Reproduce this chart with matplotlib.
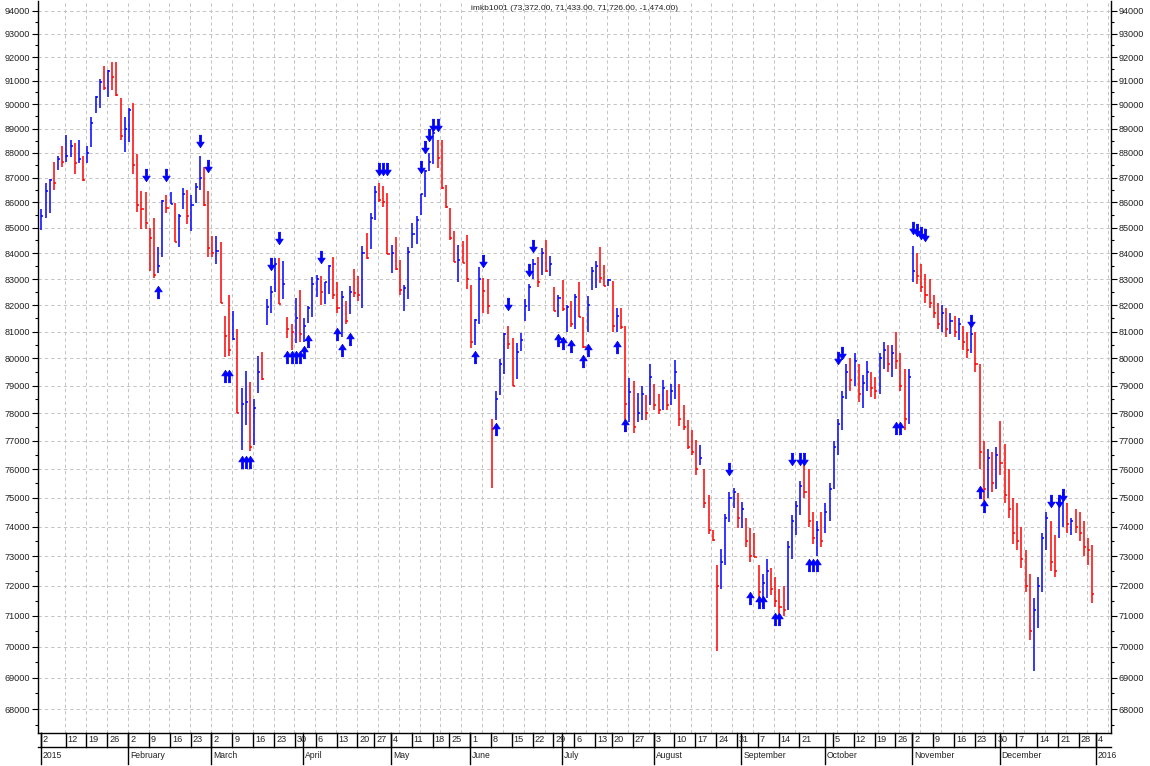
import numpy as np
import pandas as pd
import matplotlib
matplotlib.use("Agg")
import matplotlib.pyplot as plt
from matplotlib.path import Path
from matplotlib.lines import Line2D
from matplotlib.ticker import FixedLocator, NullFormatter

plt.rcParams['font.family'] = ['Liberation Sans Narrow', 'Liberation Sans', 'DejaVu Sans']

# islem gunleri (2015, resmi tatiller haric)
holidays = ["2015-01-01", "2015-04-23", "2015-05-01", "2015-05-19",
            "2015-07-17", "2015-09-24", "2015-09-25", "2015-10-29"]
days = pd.bdate_range("2015-01-01", "2015-12-31")
days = days[~days.isin(pd.to_datetime(holidays))]

high = [85750, 86800, 86950, 87620, 87890, 88300, 88740, 88510, 88400, 88510,
        87880, 88290, 89490, 90370, 91080, 91610, 91430, 91800, 91800, 90270,
        89490, 89870, 90080, 87940, 86470, 86400, 85000, 85380, 84230, 86080,
        86310, 86420, 85960, 85540, 86570, 86500, 86310, 86800, 87880, 87440,
        86460, 84690, 84690, 84450, 81600, 82380, 81790, 81110, 78930, 79550,
        79150, 78500, 80090, 80250, 82230, 82750, 83800, 83800, 83690, 81560,
        81300, 82260, 82570, 81520, 81970, 83080, 83170, 83120, 82900, 83540,
        83860, 82900, 82530, 82170, 82720, 83370, 83130, 84300, 84800, 85580,
        86640, 86780, 86650, 86370, 84340, 84640, 83740, 82770, 84260, 85200,
        85450, 86340, 87300, 88000, 89100, 88530, 88530, 86700, 85780, 84880,
        84340, 84470, 84730, 82770, 81480, 83450, 83040, 83000, 77800, 78800,
        79990, 80960, 81210, 80770, 80560, 80960, 82250, 82820, 83760, 83870,
        84200, 84510, 83890, 82700, 82400, 82960, 82010, 82160, 82430, 82890,
        81550, 82340, 83450, 83710, 84250, 83540, 83000, 82940, 81900, 81900,
        81230, 79290, 79160, 78730, 79000, 78650, 79800, 79050, 78700, 79200,
        78850, 79050, 79950, 79050, 78300, 77750, 77400, 77050, 76850, 76000,
        75100, 73900, 72700, 73250, 74450, 75200, 75350, 75150, 74850, 74300,
        73950, 73800, 72700, 72400, 72900, 72600, 72300, 71900, 72000, 73500,
        74400, 74900, 75600, 76300, 76000, 74500, 74200, 74500, 74800, 75500,
        77000, 77800, 78800, 79800, 80000, 80200, 79800, 79400, 79900, 79500,
        79300, 80200, 80600, 80500, 80500, 81000, 80200, 79600, 79600, 84300,
        84000, 83600, 83200, 83000, 82400, 82100, 82000, 81900, 81700, 81600,
        81500, 81200, 81000, 81200, 81000, 79800, 77000, 76700, 76600, 76800,
        77700, 76900, 76000, 75000, 74800, 74000, 73200, 72400, 71600, 72300,
        73800, 74500, 74200, 73700, 75000, 75200, 74800, 74300, 74600, 74500,
        74200, 73600, 73372]

low = [84920, 85370, 85590, 86500, 87290, 87420, 87620, 87850, 87130, 87580,
       86880, 87580, 88260, 89660, 89870, 90620, 90330, 90620, 90370, 88540,
       88050, 88450, 87150, 85610, 84930, 84950, 83300, 83040, 83230, 83850,
       85570, 85920, 84420, 84230, 85730, 85150, 84880, 85960, 86500, 85880,
       83850, 83850, 83580, 82100, 80050, 80090, 80680, 77990, 76680, 77570,
       76650, 76860, 78730, 79200, 81260, 81700, 82500, 82060, 82230, 80780,
       80300, 80580, 80610, 80610, 81330, 81560, 82330, 82000, 82040, 82420,
       82230, 81700, 80800, 81300, 81650, 82300, 82170, 81900, 83770, 84170,
       85300, 86000, 85820, 83960, 83250, 83360, 82380, 81790, 82230, 84200,
       84380, 85500, 86200, 87250, 87530, 87380, 86540, 85800, 84510, 83660,
       82900, 83620, 82620, 80400, 80520, 81300, 81720, 81670, 75350, 77750,
       78670, 79430, 80360, 78980, 79240, 80280, 81400, 81790, 83000, 82700,
       83170, 83290, 83130, 81770, 81550, 81790, 81000, 81160, 81110, 81550,
       80400, 80990, 82600, 82660, 82860, 82730, 82750, 81000, 81000, 81120,
       77320, 77690, 77280, 77690, 77750, 77750, 78300, 78100, 77950, 78100,
       78100, 78300, 78500, 77550, 77400, 76700, 76500, 75800, 76150, 74650,
       73750, 73500, 69850, 71900, 72700, 74150, 74650, 73950, 73950, 73300,
       72800, 72950, 71500, 71300, 71600, 71700, 71300, 71000, 71000, 71200,
       72900, 73700, 74400, 75000, 74000, 73400, 73000, 73300, 73800, 74200,
       75300, 76500, 77400, 78500, 78800, 79000, 78400, 78200, 78800, 78600,
       78500, 78700, 79600, 79500, 79300, 79600, 78800, 77400, 77600, 82900,
       82800, 82500, 82100, 81900, 81500, 81100, 81000, 80800, 80900, 80800,
       80700, 80300, 80000, 80200, 79500, 76000, 74900, 75000, 75200, 75300,
       75800, 74800, 74300, 73400, 73200, 72600, 71800, 70200, 69200, 70600,
       71800, 73200, 72500, 72300, 73600, 74000, 73800, 73700, 73800, 73500,
       73000, 72700, 71433]

close = [85460, 86470, 86900, 86800, 87750, 87610, 87880, 88290, 87600, 87740,
         86900, 88010, 89210, 90300, 90950, 90700, 91400, 91170, 90380, 88700,
         89000, 89760, 87500, 85890, 85750, 85200, 84580, 83150, 83500, 86040,
         85800, 85950, 84450, 85460, 86350, 85460, 85900, 86600, 87000, 85900,
         84190, 84000, 84100, 82100, 80830, 80330, 80720, 78000, 78330, 78400,
         76800, 78170, 79500, 79250, 81950, 82500, 83600, 82060, 82800, 81100,
         80970, 81500, 80920, 81200, 81900, 82800, 83000, 82500, 82880, 83500,
         82400, 81900, 82330, 81400, 82520, 82480, 82400, 84000, 83800, 85400,
         86400, 86080, 86000, 83990, 84020, 83380, 82600, 82650, 84060, 84770,
         85300, 86340, 87270, 87620, 88800, 87780, 86570, 85830, 84600, 83670,
         83720, 83630, 83000, 80600, 81450, 83000, 82530, 81980, 77430, 78500,
         79800, 80920, 80540, 79000, 80240, 80700, 81980, 82700, 83600, 82900,
         84000, 83300, 83600, 81790, 82290, 81850, 81950, 81300, 82300, 81570,
         80420, 82000, 83300, 83500, 83060, 82750, 82950, 81200, 81600, 81180,
         78320, 78750, 77500, 78010, 78700, 78000, 79300, 78300, 78100, 78900,
         78300, 78800, 79500, 77800, 77500, 76800, 76600, 76000, 76400, 74800,
         73900, 73550, 72000, 72800, 74300, 75000, 75200, 74300, 74600, 73500,
         73000, 72950, 71800, 72100, 72500, 71900, 71500, 71300, 71200, 73300,
         74200, 74700, 75400, 75200, 74200, 73600, 73900, 73500, 74500, 75300,
         76800, 77600, 78600, 79500, 79200, 79900, 78700, 79100, 79500, 78900,
         78800, 80000, 80300, 79800, 80200, 79900, 79000, 77800, 79300, 83300,
         83100, 82700, 82400, 82100, 81700, 81300, 81700, 81100, 81400, 81000,
         81300, 80600, 80300, 80900, 79800, 76600, 75300, 76400, 75500, 76500,
         76200, 75100, 74600, 73800, 73500, 72900, 72000, 70500, 71200, 72000,
         73600, 74300, 72800, 72500, 74800, 75000, 74100, 74200, 74000, 73800,
         73300, 73200, 71726]

# sinyal oklari: bar sirasi ve okun fiyat seviyesi
down_idx = [25, 30, 38, 40, 55, 57, 67, 81, 82, 83, 91, 92, 93, 94, 95, 106,
            112, 117, 118, 165, 180, 182, 183, 191, 192, 209, 210, 211, 212,
            223, 242, 244, 245]
down_at = [87100, 87100, 88500, 87450, 83580, 84580, 83850, 87350, 87350,
           87350, 87430, 88230, 88750, 89130, 89130, 83690, 82040, 83350,
           84270, 76000, 76350, 76350, 76350, 80000, 80200, 85000, 84900,
           84800, 84700, 81400, 74900, 74900, 75100]
up_idx = [28, 44, 45, 48, 49, 50, 59, 60, 61, 62, 63, 64, 71, 72, 74, 104, 109,
          124, 125, 127, 130, 131, 138, 140, 170, 172, 173, 176, 177, 184, 185,
          186, 205, 206, 225, 226]
up_at = [82500, 79370, 79370, 76250, 76250, 76250, 80040, 80040, 80040, 80040,
         80250, 80640, 80930, 80330, 80740, 80040, 77420, 80700, 80560, 80480,
         79890, 80330, 80410, 77560, 71600, 71450, 71450, 70900, 70900, 72700,
         72700, 72700, 77450, 77450, 75200, 74700]

months = ["2015", "February", "March", "April", "May", "June", "July",
          "August", "September", "October", "November", "December"]

W, H = 1150, 766
fig = plt.figure(figsize=(W / 100, H / 100), dpi=100)
ax = fig.add_axes([38 / W, (H - 733) / H, (1111 - 38) / W, 732 / H])

n = len(close)
x = np.arange(n)
c = np.array(close, dtype=float)
rise = np.r_[True, c[1:] > c[:-1]]
cols = np.where(rise, "#0000ff", "#ff0000")

ax.set_yscale("log")
ax.set_ylim(67250, 94420)
ax.set_xlim(-0.8, 256.5)

# izgara
grid = dict(color="#c4c4c4", lw=0.7, ls=(0, (3.5, 3)), zorder=0)
for v in range(68000, 94001, 1000):
    ax.axhline(v, **grid)
for p in np.arange(5.7, 256, 5):
    ax.axvline(p, **grid)

# barlar + kapanis
ax.vlines(x, low, high, colors=cols, lw=1.1, zorder=2)
ax.hlines(c, x, x + 0.5, colors=cols, lw=1.1, zorder=2)

# oklar
arrow = [(-0.09, -0.5), (0.09, -0.5), (0.09, 0.05), (0.3, 0.05), (0.0, 0.5),
         (-0.3, 0.05), (-0.09, 0.05), (-0.09, -0.5)]
up_mark = Path(arrow, closed=True)
down_mark = Path([(a, -b) for a, b in arrow], closed=True)
ax.plot(up_idx, up_at, ls="none", marker=up_mark, ms=9, color="#0000ff",
        mew=0.5, zorder=3)
ax.plot(down_idx, down_at, ls="none", marker=down_mark, ms=9, color="#0000ff",
        mew=0.5, zorder=3)

# y ekseni iki tarafta
ax.yaxis.set_major_locator(FixedLocator(range(68000, 94001, 1000)))
ax.yaxis.set_minor_locator(FixedLocator(range(67500, 94500, 1000)))
ax.yaxis.set_major_formatter(plt.FuncFormatter(lambda v, p: f"{v:.0f}"))
ax.yaxis.set_minor_formatter(NullFormatter())
ax.tick_params(axis="y", which="both", left=True, right=True,
               labelleft=True, labelright=True, direction="out",
               labelsize=6.6, labelcolor="#222222", width=0.8, pad=1.5)
ax.tick_params(axis="y", which="major", length=4)
ax.tick_params(axis="y", which="minor", length=2.2)
ax.set_xticks([])
ax.spines["top"].set_visible(False)
for s in ("left", "right", "bottom"):
    ax.spines[s].set_linewidth(1.0)

# alt tarih seridi: hafta basi gunleri ve ay basi
pos = pd.Series(x, index=days)
week_first = pos.groupby(days.to_period("W")).min().values
tick_pos, tick_lab = [], []
for p in week_first:
    if tick_pos and p - tick_pos[-1] < 4:
        continue
    tick_pos.append(p)
    tick_lab.append(str(days[p].day))
tick_pos.append(n)
tick_lab.append("4")
month_pos = list(pos.groupby(days.month).min().values) + [n]
month_lab = months + ["2016"]

tr = ax.get_xaxis_transform()
r1, r2 = -14 / 732, -31 / 732
ax.add_line(Line2D([0, 1], [r1, r1], transform=ax.transAxes, color="black",
                   lw=1.0, clip_on=False))
for p, lab in zip(tick_pos, tick_lab):
    ax.add_line(Line2D([p - 0.2, p - 0.2], [0, r1], transform=tr,
                       color="black", lw=1.0, clip_on=False))
    ax.text(p + 0.3, r1 / 2, lab, transform=tr, ha="left", va="center",
            fontsize=6.6, color="#222222")
for p, lab in zip(month_pos, month_lab):
    ax.add_line(Line2D([p - 0.2, p - 0.2], [0, r2], transform=tr,
                       color="black", lw=1.0, clip_on=False))
    ax.text(p + 0.3, (r1 + r2) / 2, lab, transform=tr, ha="left",
            va="center", fontsize=6.2, color="#222222")

title = (f"imkb1001 ({high[-1]:,.2f}, {low[-1]:,.2f}, {close[-1]:,.2f}, "
         f"{close[-1] - close[-2]:,.2f})")
ax.text(0.5, 1 - 8 / 732, title, transform=ax.transAxes, ha="center",
        va="center", fontsize=6, color="#222222")

fig.savefig("out.png", dpi=100)
